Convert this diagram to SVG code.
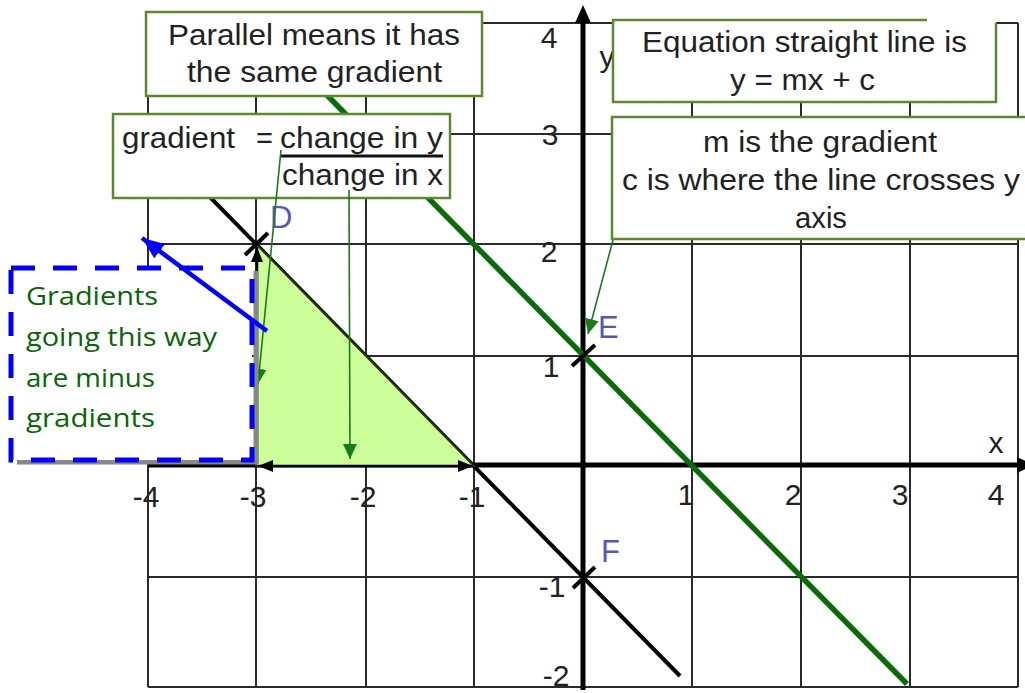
<svg xmlns="http://www.w3.org/2000/svg" width="1025" height="693" viewBox="0 0 1025 693">
<style>
.grid{stroke:#2a2a2a;stroke-width:2;fill:none}
.axis{stroke:#000;stroke-width:5;fill:none}
.num{font-family:"Liberation Sans",Arial,sans-serif;font-size:30px;fill:#222;text-anchor:middle}
.pt{font-family:"Liberation Sans",Arial,sans-serif;font-size:31px;fill:#5555bb}
.box{fill:#fff;stroke:#5b8a2e;stroke-width:2.5}
.bt{font-family:"Liberation Sans",Arial,sans-serif;font-size:29px;fill:#222}
.note{font-family:"Open Sans","Liberation Sans",sans-serif;font-size:26px;fill:#0a640a}
.gc{stroke:#1a7a1a;stroke-width:1.6;fill:none}
.cross{stroke:#000;stroke-width:4;stroke-linecap:butt}
</style>
<defs>
<marker id="ga" markerUnits="userSpaceOnUse" markerWidth="16" markerHeight="16" refX="15" refY="7" orient="auto" viewBox="0 0 16 14">
<path d="M0,0 L15,7 L0,14 Z" fill="#1a7a1a"/>
</marker>
<marker id="ba" markerUnits="userSpaceOnUse" markerWidth="16" markerHeight="14" refX="15" refY="6" orient="auto" viewBox="0 0 16 12">
<path d="M0,0 L15,6 L0,12 Z" fill="#000"/>
</marker>
<marker id="bs" markerUnits="userSpaceOnUse" markerWidth="16" markerHeight="14" refX="1" refY="6" orient="auto" viewBox="0 0 16 12">
<path d="M16,0 L1,6 L16,12 Z" fill="#000"/>
</marker>
<marker id="blu" markerUnits="userSpaceOnUse" markerWidth="24" markerHeight="20" refX="22" refY="9" orient="auto" viewBox="0 0 24 18">
<path d="M0,0 L22,9 L0,18 Z" fill="#0000ff"/>
</marker>
</defs>
<rect width="1025" height="693" fill="#fff"/>

<g id="grid">
<path class="grid" d="M148,23V687M256,23V687M366,23V687M474,23V687M692,23V687M801,23V687M910,23V687M1018,23V687"/>
<path class="grid" d="M148,23H1018M148,134H1018M148,244H1018M148,356H1018M148,577H1018M148,687H1018"/>
</g>

<g id="axes">
<line class="axis" x1="148" y1="465" x2="1020" y2="465" stroke-width="4"/>
<polygon points="1017,457 1034,465 1017,473" fill="#000"/>
<line class="axis" x1="583" y1="690" x2="583" y2="20"/>
<polygon points="575,23 583,5 591,23" fill="#000"/>
<text class="num" x="996" y="453" font-size="29">x</text>
<text class="num" x="607" y="67" font-size="29">y</text>
</g>

<g id="tick-labels">
<text class="num" x="146" y="507">-4</text>
<text class="num" x="253" y="507">-3</text>
<text class="num" x="363" y="507">-2</text>
<text class="num" x="472" y="507">-1</text>
<text class="num" x="686" y="505">1</text>
<text class="num" x="793" y="505">2</text>
<text class="num" x="900" y="505">3</text>
<text class="num" x="996" y="505">4</text>
<text class="num" x="549" y="48">4</text>
<text class="num" x="550" y="145">3</text>
<text class="num" x="549" y="262">2</text>
<text class="num" x="551" y="377">1</text>
<text class="num" x="552" y="597">-1</text>
<text class="num" x="556" y="686">-2</text>
</g>

<g id="lines">
<line id="black-line" x1="203" y1="190" x2="680" y2="676" stroke="#000" stroke-width="4"/>
<line id="green-line" x1="315" y1="83" x2="907" y2="684" stroke="#0b6b0b" stroke-width="5.5"/>
</g>

<g id="triangle">
<polygon points="256,244 256,466 474,466" fill="#ccff99" stroke="#1f3a12" stroke-width="2"/>
<line x1="258" y1="466" x2="473" y2="466" stroke="#000" stroke-width="2.5" marker-start="url(#bs)" marker-end="url(#ba)"/>
<line x1="257" y1="464" x2="257" y2="247" stroke="#000" stroke-width="2.5" marker-end="url(#ba)"/>
</g>

<g id="points">
<line class="cross" x1="245" y1="255" x2="268" y2="233"/>
<line class="cross" x1="572" y1="366" x2="595" y2="345"/>
<line class="cross" x1="573" y1="588" x2="595" y2="567"/>
<text class="pt" x="270" y="228">D</text>
<text class="pt" x="598" y="338">E</text>
<text class="pt" x="601" y="562">F</text>
</g>

<g id="node-parallel">
<rect class="box" x="146" y="12" width="336" height="84"/>
<text class="bt" x="168" y="45" textLength="292" lengthAdjust="spacingAndGlyphs">Parallel means it has</text>
<text class="bt" x="187" y="82" textLength="255" lengthAdjust="spacingAndGlyphs">the same gradient</text>
</g>

<g id="node-gradient">
<rect class="box" x="113" y="114" width="337" height="84"/>
<text class="bt" x="122" y="148" textLength="113" lengthAdjust="spacingAndGlyphs">gradient</text>
<text class="bt" x="256" y="148">=</text>
<text class="bt" x="280" y="148" textLength="163" lengthAdjust="spacingAndGlyphs">change in y</text>
<line x1="280" y1="156" x2="443" y2="156" stroke="#111" stroke-width="3"/>
<text class="bt" x="282" y="185" textLength="161" lengthAdjust="spacingAndGlyphs">change in x</text>
</g>

<g id="node-equation">
<rect x="613" y="20" width="383" height="82" fill="#fff"/>
<path d="M927,20H613V102H996V23" fill="none" stroke="#5b8a2e" stroke-width="2.5"/>
<text class="bt" x="642" y="52" textLength="325" lengthAdjust="spacingAndGlyphs">Equation straight line is</text>
<text class="bt" x="730" y="90" textLength="145" lengthAdjust="spacingAndGlyphs">y = mx + c</text>
</g>

<g id="node-m">
<rect class="box" x="612" y="117" width="430" height="122"/>
<text class="bt" x="703" y="152" textLength="234" lengthAdjust="spacingAndGlyphs">m is the gradient</text>
<text class="bt" x="622" y="190" textLength="398" lengthAdjust="spacingAndGlyphs">c is where the line crosses y</text>
<text class="bt" x="795" y="228" textLength="52" lengthAdjust="spacingAndGlyphs">axis</text>
</g>

<g id="connectors">
<line class="gc" x1="281" y1="150" x2="258" y2="384" marker-end="url(#ga)"/>
<line class="gc" x1="349" y1="190" x2="350" y2="459" marker-end="url(#ga)"/>
<line class="gc" x1="613" y1="240" x2="588" y2="334" stroke-width="2" marker-end="url(#ga)"/>
</g>

<g id="node-minus">
<path d="M17,462H256V271" fill="none" stroke="#888" stroke-width="5"/>
<rect x="11" y="268" width="241" height="192" fill="#fff" stroke="#0000ff" stroke-width="5" stroke-dasharray="24 18"/>
<text class="note" x="26" y="305" textLength="132" lengthAdjust="spacingAndGlyphs">Gradients</text>
<text class="note" x="26" y="346" textLength="191" lengthAdjust="spacingAndGlyphs">going this way</text>
<text class="note" x="26" y="387" textLength="129" lengthAdjust="spacingAndGlyphs">are minus</text>
<text class="note" x="26" y="427" textLength="129" lengthAdjust="spacingAndGlyphs">gradients</text>
</g>

<g id="blue-arrow">
<line x1="267" y1="331" x2="142" y2="238" stroke="#0000ff" stroke-width="4.5" marker-end="url(#blu)"/>
</g>
</svg>
